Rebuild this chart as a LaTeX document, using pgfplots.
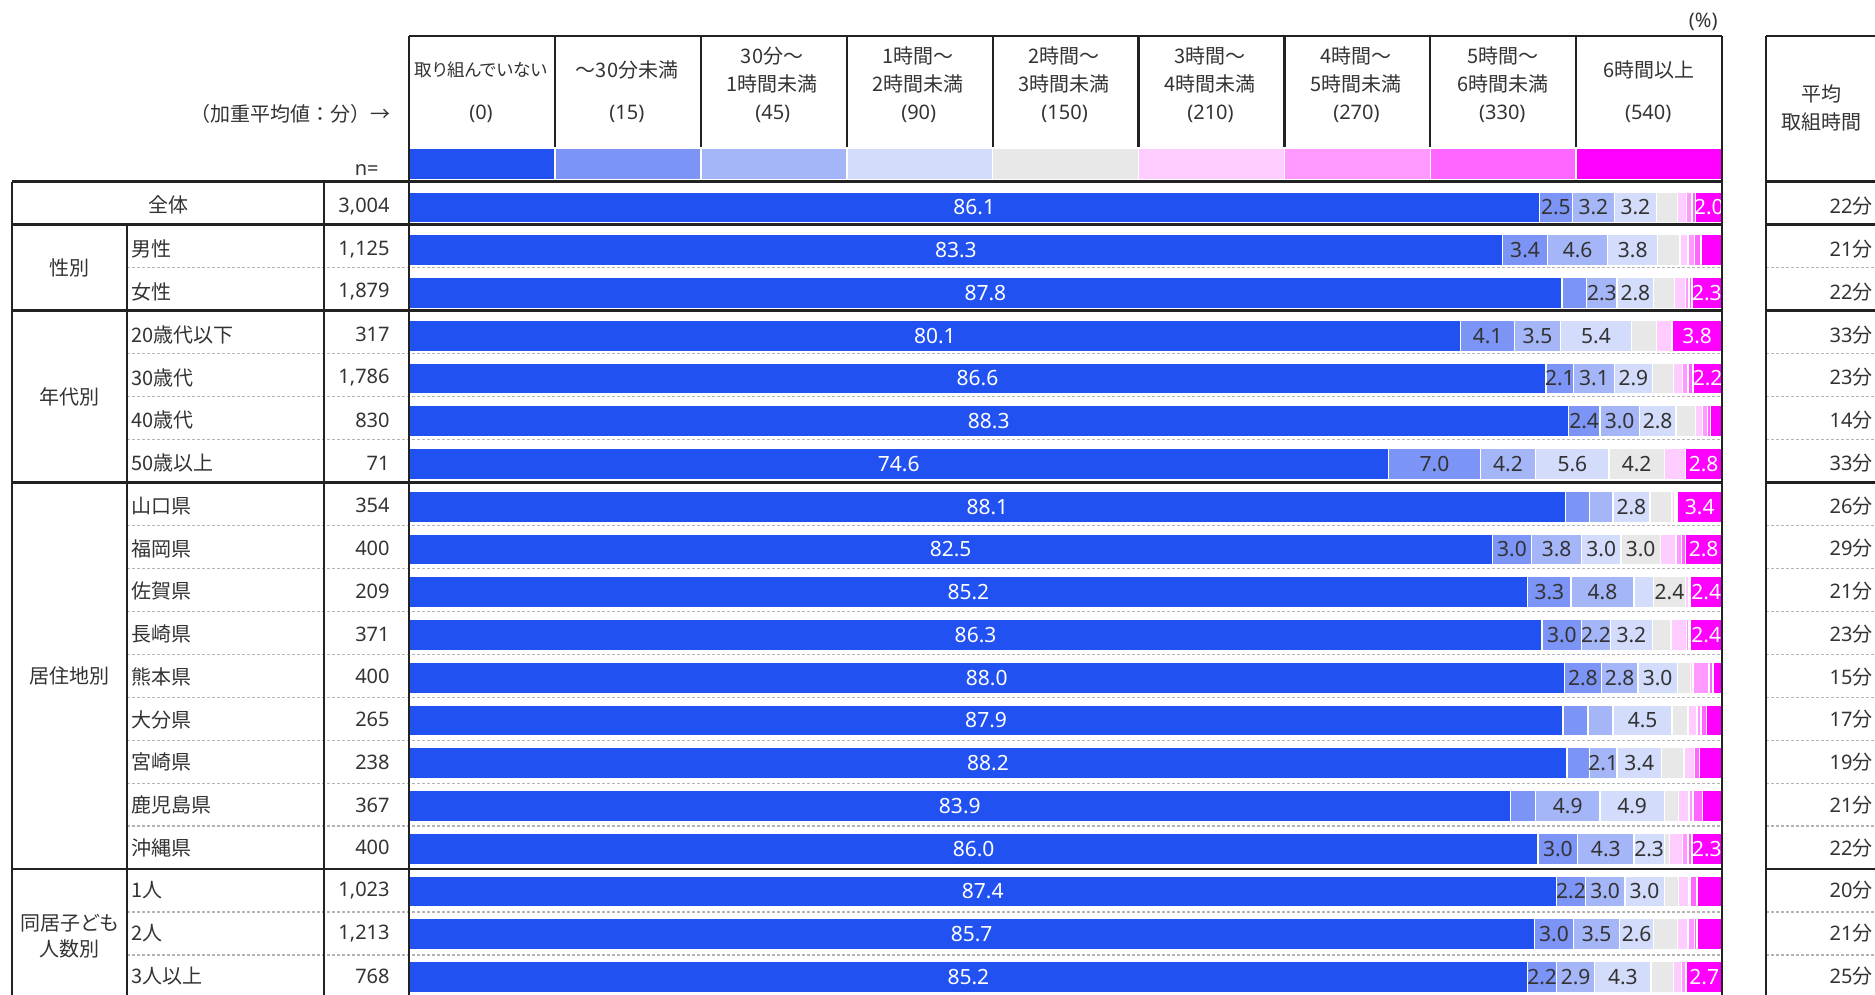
\documentclass[border=0pt]{standalone}
\usepackage{pgfplots}
\pgfplotsset{compat=1.18}
\usepackage{pgfplotstable}
\usepackage{fontspec}
\setmainfont{Noto Sans CJK JP}
\newfontfamily\nf{Noto Sans}
\newfontfamily\pf{Noto Sans CJK JP}[RawFeature=+palt]
\definecolor{s0}{HTML}{2251F2}
\definecolor{s15}{HTML}{7B94F6}
\definecolor{s45}{HTML}{A5B6F8}
\definecolor{s90}{HTML}{D3DCFB}
\definecolor{s150}{HTML}{E8E8E8}
\definecolor{s210}{HTML}{FFCCFF}
\definecolor{s270}{HTML}{FF99FF}
\definecolor{s330}{HTML}{FF66FF}
\definecolor{s540}{HTML}{FF00FF}
\definecolor{txt}{HTML}{333333}
\definecolor{ln}{HTML}{222222}
\definecolor{dl}{HTML}{B4B4B4}

\pgfplotstableread{
r c0 c15 c45 c90 c150 c210 c270 c330 c540
0 86.1 2.5 3.2 3.2 1.6 0.7 0.4 0.3 2.0
1 83.3 3.4 4.6 3.8 1.7 0.6 0.5 0.5 1.6
2 87.8 1.9 2.3 2.8 1.6 0.8 0.3 0.2 2.3
3 80.1 4.1 3.5 5.4 1.9 1.2 0.0 0.0 3.8
4 86.6 2.1 3.1 2.9 1.6 0.7 0.4 0.4 2.2
5 88.3 2.4 3.0 2.8 1.5 0.5 0.4 0.2 0.9
6 74.6 7.0 4.2 5.6 4.2 1.6 0.0 0.0 2.8
7 88.1 1.8 1.8 2.8 1.7 0.2 0.1 0.1 3.4
8 82.5 3.0 3.8 3.0 3.0 1.2 0.4 0.3 2.8
9 85.2 3.3 4.8 1.5 2.4 0.3 0.1 0.0 2.4
10 86.3 3.0 2.2 3.2 1.4 1.2 0.2 0.1 2.4
11 88.0 2.8 2.8 3.0 1.0 0.2 1.2 0.3 0.7
12 87.9 1.9 1.9 4.5 1.2 0.7 0.3 0.4 1.2
13 88.2 1.7 2.1 3.4 1.7 0.8 0.0 0.4 1.7
14 83.9 1.9 4.9 4.9 1.1 0.8 0.3 0.7 1.5
15 86.0 3.0 4.3 2.3 0.4 1.0 0.4 0.3 2.3
16 87.4 2.2 3.0 3.0 1.1 0.8 0.1 0.5 1.9
17 85.7 3.0 3.5 2.6 1.8 0.8 0.5 0.2 1.9
18 85.2 2.2 2.9 4.3 1.7 0.6 0.3 0.1 2.7
}\data

% label centres (cumulative)
\pgfplotstablecreatecol[create col/expr={\thisrow{c0}/2}]{m0}\data
\pgfplotstablecreatecol[create col/expr={\thisrow{c0}+\thisrow{c15}/2}]{m15}\data
\pgfplotstablecreatecol[create col/expr={\thisrow{c0}+\thisrow{c15}+\thisrow{c45}/2}]{m45}\data
\pgfplotstablecreatecol[create col/expr={\thisrow{c0}+\thisrow{c15}+\thisrow{c45}+\thisrow{c90}/2}]{m90}\data
\pgfplotstablecreatecol[create col/expr={\thisrow{c0}+\thisrow{c15}+\thisrow{c45}+\thisrow{c90}+\thisrow{c150}/2}]{m150}\data
\pgfplotstablecreatecol[create col/expr={\thisrow{c0}+\thisrow{c15}+\thisrow{c45}+\thisrow{c90}+\thisrow{c150}+\thisrow{c210}/2}]{m210}\data
\pgfplotstablecreatecol[create col/expr={\thisrow{c0}+\thisrow{c15}+\thisrow{c45}+\thisrow{c90}+\thisrow{c150}+\thisrow{c210}+\thisrow{c270}/2}]{m270}\data
\pgfplotstablecreatecol[create col/expr={\thisrow{c0}+\thisrow{c15}+\thisrow{c45}+\thisrow{c90}+\thisrow{c150}+\thisrow{c210}+\thisrow{c270}+\thisrow{c330}+\thisrow{c540}/2}]{m540}\data

% label texts: empty below 2.0
\newcommand\mklab[1]{%
  \pgfplotstablecreatecol[create col/assign/.code={%
    \getthisrow{c#1}\vv
    \ifdim\vv pt<1.95pt
      \pgfkeyslet{/pgfplots/table/create col/next content}\empty
    \else
      \pgfkeyslet{/pgfplots/table/create col/next content}\vv
    \fi}]{l#1}\data}
\mklab{0}\mklab{15}\mklab{45}\mklab{90}\mklab{150}\mklab{210}\mklab{270}\mklab{540}

\pgfplotsset{
  segn/.style={fill=#1, draw=white, line width=0.7pt},
  lab/.style={only marks, mark=*, mark size=0pt, mark options={draw=none, fill=none},
    point meta=explicit symbolic, nodes near coords,
    every node near coord/.append style={anchor=center, text=#1, font=\nf\fontsize{10.5}{12}\selectfont, inner sep=0pt}},
  geom/.style={at={(204.5pt,-93.06pt)}, anchor=north west,
    x=6.565pt, y=21.375pt, y dir=reverse,
    xmin=0, xmax=100, ymin=-0.5, ymax=18.5, hide axis, clip=false},
}

\begin{document}
\begin{tikzpicture}
\useasboundingbox (0,0) rectangle (937.5pt,-497.5pt);
\clip (0,0) rectangle (937.5pt,-497.5pt);

\begin{axis}[geom, xbar stacked, bar width=15.5pt]
\addplot[segn=s0] table[x=c0,y=r]{\data};
\addplot[segn=s15] table[x=c15,y=r]{\data};
\addplot[segn=s45] table[x=c45,y=r]{\data};
\addplot[segn=s90] table[x=c90,y=r]{\data};
\addplot[segn=s150] table[x=c150,y=r]{\data};
\addplot[segn=s210] table[x=c210,y=r]{\data};
\addplot[segn=s270] table[x=c270,y=r]{\data};
\addplot[segn=s330] table[x=c330,y=r]{\data};
\addplot[segn=s540] table[x=c540,y=r]{\data};
\end{axis}

\begin{axis}[geom]
\addplot[lab=white] table[x=m0,y=r,meta=l0]{\data};
\addplot[lab=txt] table[x=m15,y=r,meta=l15]{\data};
\addplot[lab=txt] table[x=m45,y=r,meta=l45]{\data};
\addplot[lab=txt] table[x=m90,y=r,meta=l90]{\data};
\addplot[lab=txt] table[x=m150,y=r,meta=l150]{\data};
\addplot[lab=txt] table[x=m210,y=r,meta=l210]{\data};
\addplot[lab=txt] table[x=m270,y=r,meta=l270]{\data};
\addplot[lab=white] table[x=m540,y=r,meta=l540]{\data};
\end{axis}

\begin{scope}[x=0.5pt,y=-0.5pt, every node/.style={text=txt, inner sep=0pt, font=\fontsize{10}{12}\selectfont}]
% legend strip
\foreach \cc [count=\k from 0] in {s0,s15,s45,s90,s150,s210,s270,s330,s540}
  \filldraw[fill=\cc, draw=white, line width=0.8pt] ({409+145.9*\k},148) rectangle ({409+145.9*(\k+1)},179.5);

% dashed row separators
\foreach \k in {2,4,5,6,8,9,10,11,12,13,14,15,17,18} {
  \draw[dl, line width=0.6pt, dash pattern=on 1.5pt off 1pt] (127,{181.8+42.95*\k}) -- (1722,{181.8+42.95*\k});
  \draw[dl, line width=0.6pt, dash pattern=on 1.5pt off 1pt] (1766,{181.8+42.95*\k}) -- (1875,{181.8+42.95*\k});
}
% thick lines
\foreach \k in {0,1,3,7,16} {
  \draw[ln, line width=1.3pt] (12,{181.8+42.95*\k}) -- (1722,{181.8+42.95*\k});
  \draw[ln, line width=1.3pt] (1766,{181.8+42.95*\k}) -- (1875,{181.8+42.95*\k});
}
\draw[ln, line width=1.3pt] (409,35.9) -- (1722,35.9);
\draw[ln, line width=1.3pt] (1766,35.9) -- (1875,35.9);
\draw[ln, line width=1.3pt] (409,35.9) -- (409,1000);
\draw[ln, line width=1.3pt] (1722,35.9) -- (1722,1000);
\draw[ln, line width=1.3pt] (1766,35.9) -- (1766,1000);
\foreach \k in {1,...,8}
  \draw[ln, line width=1.1pt] ({409+145.9*\k},35.9) -- ({409+145.9*\k},147);
\draw[ln, line width=1.3pt] (12,181.8) -- (12,1000);
\draw[ln, line width=1.3pt] (127,224.75) -- (127,1000);
\draw[ln, line width=1.3pt] (324,181.8) -- (324,1000);

% header texts
\node[anchor=east] at (1718,22) {\nf(\%)};
\node at (481,70) {\pf\fontsize{8.8}{10}\selectfont 取り組んでいない};
\node at (627,70) {～30分未満};
\node at (772,56) {30分～};
\node at (772,84) {1時間未満};
\node at (918,56) {1時間～};
\node at (918,84) {2時間未満};
\node at (1064,56) {2時間～};
\node at (1064,84) {3時間未満};
\node at (1210,56) {3時間～};
\node at (1210,84) {4時間未満};
\node at (1356,56) {4時間～};
\node at (1356,84) {5時間未満};
\node at (1503,56) {5時間～};
\node at (1503,84) {6時間未満};
\node at (1649,70) {6時間以上};
\foreach \v [count=\k from 0] in {0,15,45,90,150,210,270,330,540}
  \node at ({481+145.9*\k},114) {\nf(\v)};
\node[anchor=east] at (391,114) {（加重平均値：分）→};
\node[anchor=east] at (379,170) {\nf n=};
\node at (1821,94) {平均};
\node at (1821,122) {取組時間};

% group labels
\node at (168,205) {全体};
\node at (69.5,268) {性別};
\node at (69.5,397) {年代別};
\node at (69.5,676) {居住地別};
\node at (69.5,923) {\pf 同居子ども};
\node at (69.5,949) {人数別};

% sub labels, n and averages
\foreach \lab/\n/\m [count=\i from 0] in {
  {}/{3,004}/22, 男性/{1,125}/21, 女性/{1,879}/22,
  20歳代以下/317/33, 30歳代/{1,786}/23, 40歳代/830/14, 50歳以上/71/33,
  山口県/354/26, 福岡県/400/29, 佐賀県/209/21, 長崎県/371/23, 熊本県/400/15,
  大分県/265/17, 宮崎県/238/19, 鹿児島県/367/21, 沖縄県/400/22,
  1人/{1,023}/20, 2人/{1,213}/21, 3人以上/768/25} {
  \node[anchor=west] at (131,{206.5+42.75*\i}) {\lab};
  \node[anchor=east] at (390,{206.5+42.75*\i}) {\nf\n};
  \node[anchor=east] at (1873,{206.5+42.75*\i}) {{\nf\m}分};
}
\end{scope}
\end{tikzpicture}
\end{document}
